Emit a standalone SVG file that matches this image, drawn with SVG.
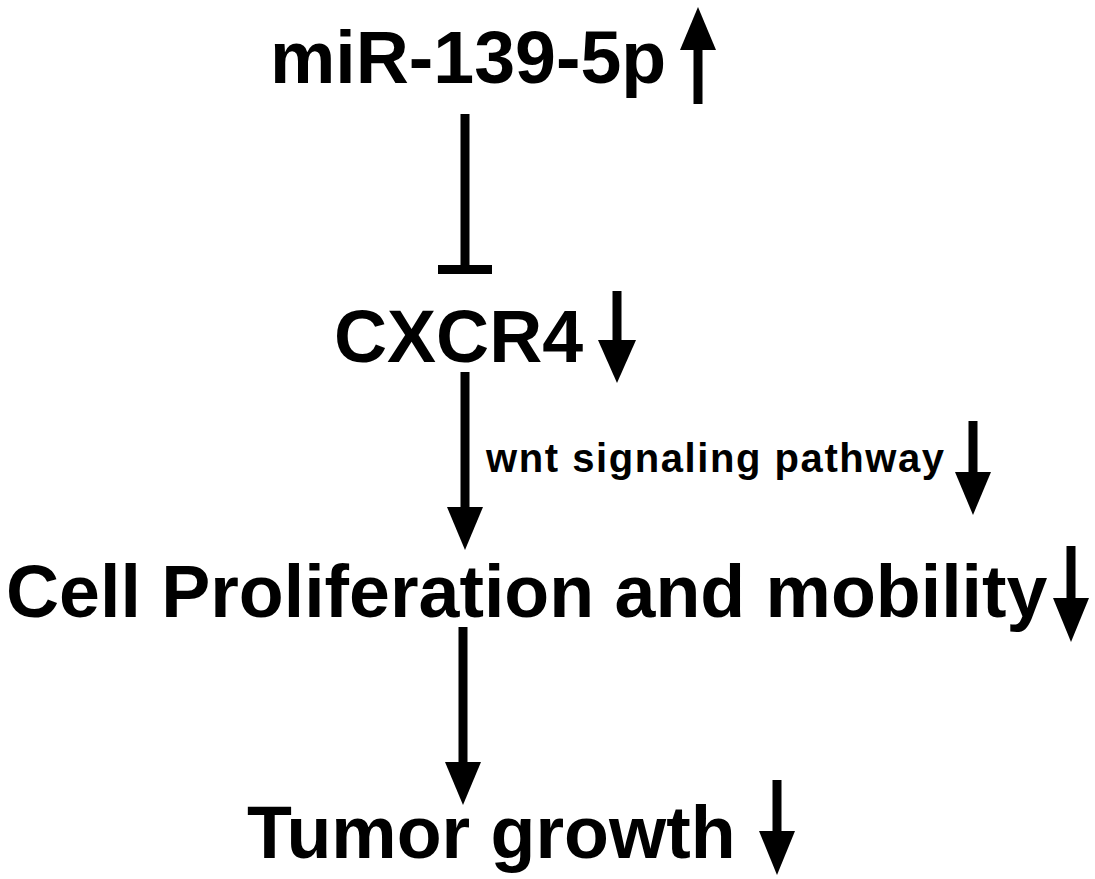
<svg xmlns="http://www.w3.org/2000/svg" width="1095" height="879" viewBox="0 0 1095 879">
  <style>
    .lbl { font-family: "Liberation Sans", Arial, sans-serif; font-weight: bold; fill: #000; }
    .big { font-size: 73.5px; }
    .small { font-size: 40px; }
    .shaft { stroke: #000; stroke-width: 9; fill: none; }
    .head { fill: #000; }
  </style>
  <defs>
    <marker id="arrow" markerUnits="userSpaceOnUse" viewBox="0 0 43 36" refX="0" refY="18" markerWidth="43" markerHeight="36" orient="auto">
      <path d="M0,0 L43,18 L0,36 Z" fill="#000"/>
    </marker>
  </defs>
  <rect width="1095" height="879" fill="#fff"/>

  <g id="node-mir">
    <text class="lbl big" x="270" y="83">miR-139-5p</text>
    <line class="shaft" x1="698" y1="104" x2="698" y2="50"/>
    <polygon class="head" points="680,50 698,7 716,50"/>
  </g>

  <g id="node-cxcr4">
    <text class="lbl big" x="334" y="362">CXCR4</text>
    <line class="shaft" x1="617" y1="291" x2="617" y2="340"/>
    <polygon class="head" points="598,340 617,383 636,340"/>
  </g>

  <g id="node-wnt">
    <text class="lbl small" x="486" y="472" textLength="458" lengthAdjust="spacing">wnt signaling pathway</text>
    <line class="shaft" x1="973" y1="421" x2="973" y2="472"/>
    <polygon class="head" points="955,472 973,515 991,472"/>
  </g>

  <g id="node-cell">
    <text class="lbl big" x="6" y="617">Cell Proliferation and mobility</text>
    <line class="shaft" x1="1071" y1="546" x2="1071" y2="598"/>
    <polygon class="head" points="1053,598 1071,642 1089,598"/>
  </g>

  <g id="node-tumor">
    <text class="lbl big" x="247" y="858">Tumor growth</text>
    <line class="shaft" x1="777" y1="780" x2="777" y2="831"/>
    <polygon class="head" points="759,831 777,875 795,831"/>
  </g>

  <g id="connectors">
    <line class="shaft" x1="465" y1="114" x2="465" y2="270"/>
    <rect x="438" y="265" width="54" height="9" fill="#000"/>
    <line class="shaft" x1="465" y1="372" x2="465" y2="507" marker-end="url(#arrow)"/>
    <line class="shaft" x1="463" y1="627" x2="463" y2="762" marker-end="url(#arrow)"/>
  </g>
</svg>
